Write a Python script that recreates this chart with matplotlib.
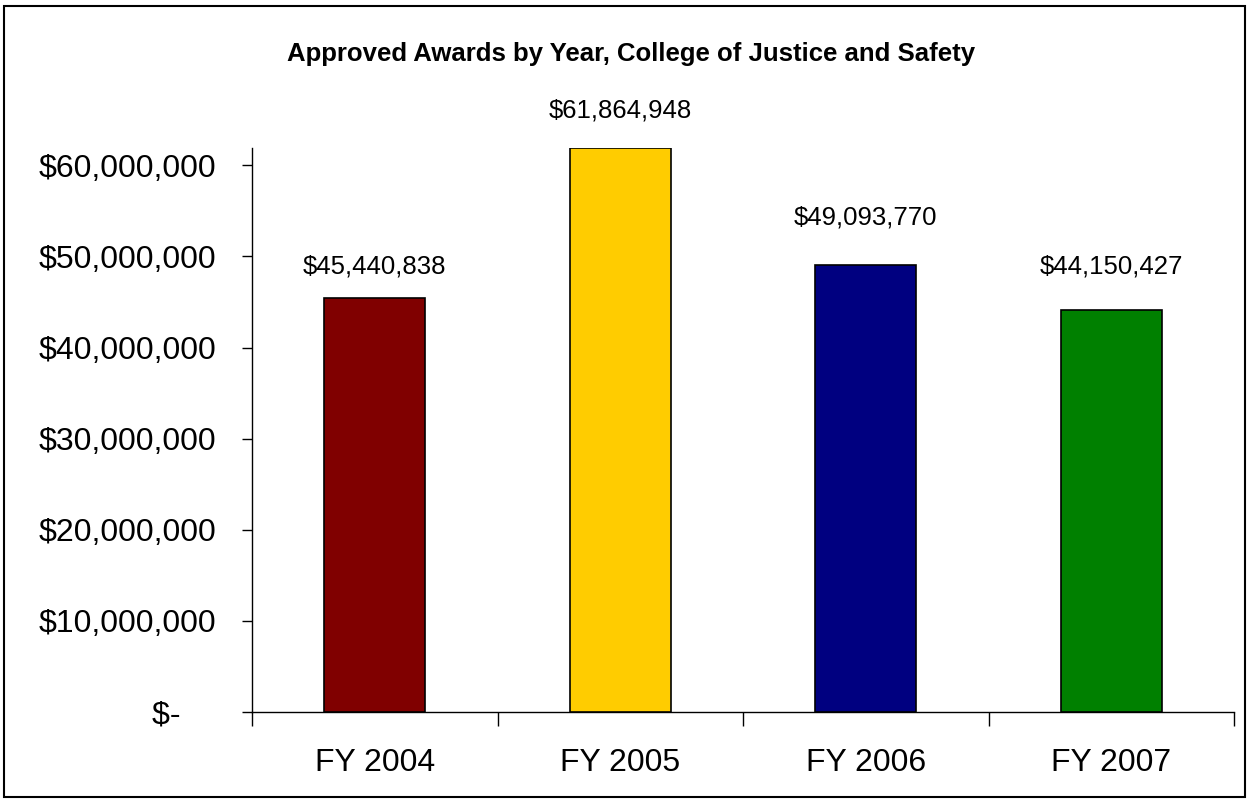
import matplotlib.pyplot as plt
from matplotlib.patches import Rectangle
from matplotlib.ticker import FuncFormatter
import numpy as np

years = ['FY 2004', 'FY 2005', 'FY 2006', 'FY 2007']
awards = [45440838, 61864948, 49093770, 44150427]
colors = ['#800000', '#FFCC00', '#000080', '#008000']
# label offsets above the bar tops, in points (labels were hand-placed)
label_pts = [14, 18.5, 25, 22.5]

plt.rcParams['font.family'] = ['Liberation Sans', 'DejaVu Sans']

fig = plt.figure(figsize=(12.49, 8.02), dpi=100)
ax = fig.add_axes([0.2018, 0.1122, 0.7862, 0.7033])

x = np.arange(len(years))
ax.bar(x, awards, width=0.41, color=colors, edgecolor='black', linewidth=1.2, zorder=3)

for xi, v, off in zip(x, awards, label_pts):
    ax.annotate('${:,.0f}'.format(v), (xi, v), xytext=(0, off), textcoords='offset points',
                ha='center', va='bottom', fontsize=18.5)

ax.set_xlim(-0.5, 3.5)
ax.set_ylim(0, 61.9e6)
ax.set_yticks(np.arange(0, 60e6 + 1, 10e6))
# accounting style: zero shown as "$-" with padding
ax.yaxis.set_major_formatter(FuncFormatter(lambda v, p: '$-    ' if v == 0 else '${:,.0f}'.format(v)))
ax.tick_params(axis='y', labelsize=23, direction='out', length=7, width=1, pad=19)

ax.set_xticks(x)
ax.set_xticklabels(years)
ax.set_xticks(np.arange(-0.5, 4, 1), minor=True)
ax.tick_params(axis='x', which='major', length=0, labelsize=23, pad=26)
ax.tick_params(axis='x', which='minor', length=10, width=1, direction='out')

for s in ['top', 'right']:
    ax.spines[s].set_visible(False)
ax.spines['left'].set_linewidth(1)
ax.spines['bottom'].set_linewidth(1)

fig.text(0.505, 0.933, 'Approved Awards by Year, College of Justice and Safety',
         ha='center', va='center', fontsize=18.5, fontweight='bold')

fig.patches.append(Rectangle((0.003, 0.006), 0.994, 0.987, transform=fig.transFigure,
                             fill=False, edgecolor='black', linewidth=1.5))

fig.savefig('out.png', dpi=100)
